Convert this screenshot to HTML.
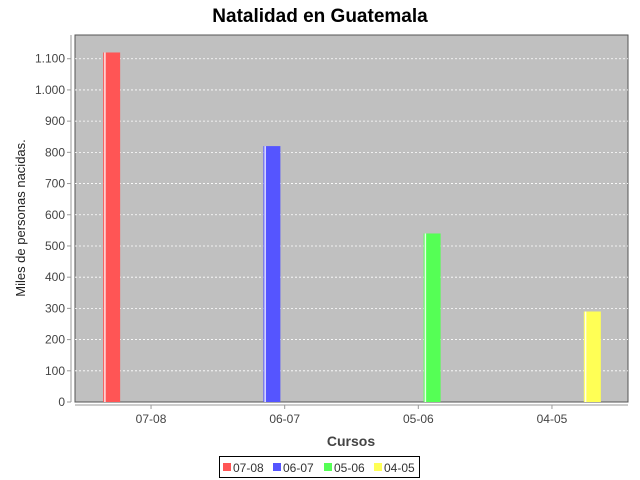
<!DOCTYPE html>
<html><head><meta charset="utf-8"><style>
body{margin:0;background:#fff;}
svg{display:block;font-family:"Liberation Sans",sans-serif;}
</style></head><body>
<svg id="chart" width="640" height="480">
<text x="320" y="22" text-anchor="middle" font-size="19" font-weight="bold" fill="#000">Natalidad en Guatemala</text>
<rect x="75" y="35" width="553" height="367" fill="#c0c0c0" stroke="#555" stroke-width="1"/>
<g id="grid"></g>
<g id="bars"></g>
<line x1="71" y1="35" x2="71" y2="402" stroke="#999"/>
<line x1="75" y1="405" x2="628" y2="405" stroke="#999"/>
<g id="yticks" font-size="12" fill="#444"></g>
<g id="xticks" font-size="12" fill="#444"></g>
<text transform="translate(25,218) rotate(-90)" text-anchor="middle" font-size="13" fill="#222">Miles de personas nacidas.</text>
<text x="351" y="446" text-anchor="middle" font-size="14" font-weight="bold" fill="#444">Cursos</text>
<g>
<rect x="219.5" y="456.5" width="200" height="21" fill="#fff" stroke="#000"/>
<g id="legend" font-size="12" fill="#333"></g>
</g>
</svg>
<script>
const categories = ["07-08","06-07","05-06","04-05"];
const seriesNames = ["07-08","06-07","05-06","04-05"];
const seriesColors = ["#ff5555","#5555ff","#55ff55","#ffff55"];
const s0 = [1120,0,0,0];
const s1 = [0,820,0,0];
const s2 = [0,0,540,0];
const s3 = [0,0,0,290];
const seriesValues = [s0,s1,s2,s3];
const yTicks = [0,100,200,300,400,500,600,700,800,900,1000,1100];
const yTickLabels = ["0","100","200","300","400","500","600","700","800","900","1.000","1.100"];

const NS="http://www.w3.org/2000/svg";
const plotL=75,plotR=628,plotT=35,plotB=402,yMax=1176;
function y(v){return plotB-(v/yMax)*(plotB-plotT);}
const W=plotR-plotL, nC=categories.length, nS=seriesNames.length;
const lowM=W*0.05, catGap=W*0.2/(nC-1), catW=(W-2*lowM-W*0.2)/nC;
const barW=17, itemGap=(catW-nS*barW)/(nS-1);
function catStart(i){return plotL+lowM+i*(catW+catGap);}
function barX(c,s){return catStart(c)+s*(barW+itemGap)+0.5;}
function mk(tag,attrs,parent){const e=document.createElementNS(NS,tag);for(const k in attrs)e.setAttribute(k,attrs[k]);parent.appendChild(e);return e;}

const grid=document.getElementById('grid'),yt=document.getElementById('yticks');
yTicks.forEach((v,i)=>{
  if(v>0){const g=mk('line',{x1:plotL,x2:plotR,y1:y(v),y2:y(v),stroke:'#fff','stroke-dasharray':'2,2','stroke-width':0.8},grid);
  
  }
  mk('line',{x1:67,x2:71,y1:y(v),y2:y(v),stroke:'#999'},yt);
  const t=mk('text',{x:65,y:y(v)+4,'text-anchor':'end'},yt);t.textContent=yTickLabels[i];
  
  
});
const xt=document.getElementById('xticks');
categories.forEach((c,i)=>{
  const cx=catStart(i)+catW/2;
  mk('line',{x1:cx,x2:cx,y1:405,y2:409,stroke:'#999'},xt);
  const t=mk('text',{x:cx,y:423,'text-anchor':'middle'},xt);t.textContent=c;
  
  
});
const bars=document.getElementById('bars');
seriesValues.forEach((vals,s)=>{
  vals.forEach((v,c)=>{
    if(v<=0)return;
    const x=barX(c,s),yy=y(v);
    const r=mk('rect',{x:x,y:yy,width:barW,height:plotB-yy,fill:seriesColors[s]},bars);
    
    
    mk('rect',{x:x+1,y:yy,width:1.5,height:plotB-yy,fill:'#fff',opacity:0.85},bars);
  });
});
const lg=document.getElementById('legend');
const lx=[223,273,324,374];
seriesNames.forEach((n,i)=>{
  const r=mk('rect',{x:lx[i],y:463,width:8,height:8,fill:seriesColors[i]},lg);
  
  
  const t=mk('text',{x:lx[i]+10,y:472},lg);t.textContent=n;
  
  
});
</script>
</body></html>
